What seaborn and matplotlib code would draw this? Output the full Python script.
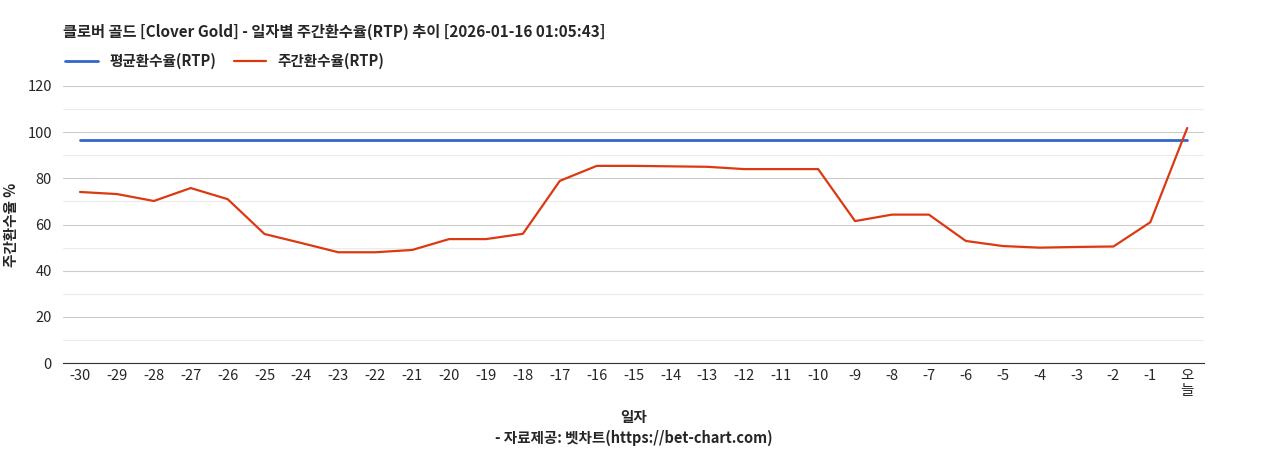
import matplotlib
matplotlib.use("Agg")
import matplotlib.pyplot as plt
import seaborn as sns
import pandas as pd

days = [f"{d}" for d in range(-30, 0)] + ["오\n늘"]
weekly_rtp = [74.1, 73.2, 70.2, 75.8, 71.0, 55.9, 52.0, 48.0, 48.0, 49.0,
              53.7, 53.7, 56.0, 78.9, 85.4, 85.4, 85.2, 85.0, 84.0, 84.0,
              84.0, 61.5, 64.3, 64.3, 52.9, 50.7, 50.0, 50.3, 50.5, 61.0, 101.8]
avg_rtp = [96.4] * len(days)

sns.set_style("white")
plt.rcParams['font.family'] = ['Noto Sans CJK KR', 'DejaVu Sans']

df = pd.DataFrame({"x": range(len(days)), "avg": avg_rtp, "weekly": weekly_rtp})

fig = plt.figure(figsize=(12.68, 4.5), dpi=100)
ax = fig.add_axes([0.0497, 0.193, 0.900, 0.616])

for y in range(0, 121, 10):
    ax.axhline(y, color="#cccccc" if y % 20 == 0 else "#ebebeb", lw=0.8, zorder=0)

sns.lineplot(data=df, x="x", y="avg", ax=ax, color="#3366cc", lw=2, label="평균환수율(RTP)")
sns.lineplot(data=df, x="x", y="weekly", ax=ax, color="#dc3912", lw=1.6, label="주간환수율(RTP)")

ax.set_xlim(-0.46, len(days) - 1 + 0.46)
ax.set_ylim(0, 120)
ax.set_yticks(range(0, 121, 20))
ax.set_xticks(range(len(days)))
ax.set_xticklabels(days, fontsize=10.5, linespacing=1.1, rotation=0)
ax.tick_params(axis="y", labelsize=10.5, length=0, pad=8)
ax.tick_params(axis="x", length=0, pad=4)
for s in ["top", "right", "left"]:
    ax.spines[s].set_visible(False)
ax.spines["bottom"].set_color("#333333")

ax.set_xlabel("일자", fontsize=10.5, fontweight="bold", labelpad=8)
ax.set_ylabel("주간환수율 %", fontsize=10.5, fontweight="bold", labelpad=6)

ax.legend(loc="lower left", bbox_to_anchor=(-0.003, 1.04), ncol=2, frameon=False,
          prop={"weight": "bold", "size": 10.5}, handlelength=2.2,
          borderaxespad=0, columnspacing=1.2)

fig.text(0.0497, 0.93, "클로버 골드 [Clover Gold] - 일자별 주간환수율(RTP) 추이 [2026-01-16 01:05:43]",
         fontsize=11, fontweight="bold", va="center")
fig.text(0.5, 0.028, "- 자료제공: 벳차트(https://bet-chart.com)", fontsize=10.5,
         fontweight="bold", ha="center", va="center")

fig.savefig("out.png", dpi=100)
